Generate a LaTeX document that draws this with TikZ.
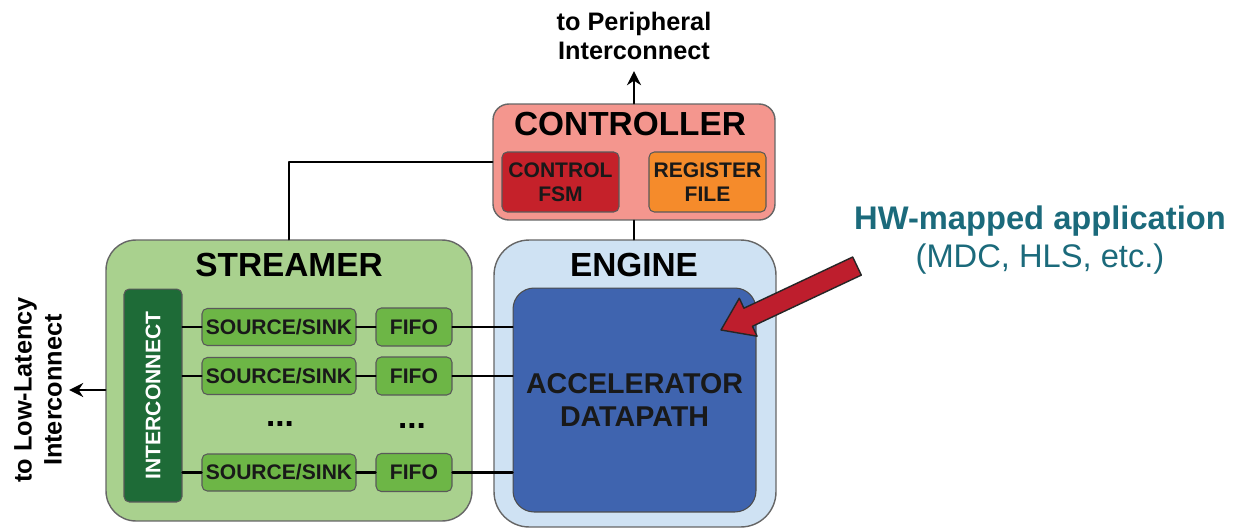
\documentclass[tikz,border=0pt]{standalone}
\usepackage{fontspec}
\setmainfont{Liberation Sans}
\usetikzlibrary{arrows.meta}
\definecolor{ctrlfill}{HTML}{F4968E}
\definecolor{fsmfill}{HTML}{C5212A}
\definecolor{regfill}{HTML}{F58B2B}
\definecolor{strfill}{HTML}{A9D18E}
\definecolor{srcfill}{HTML}{6DB646}
\definecolor{icfill}{HTML}{1E6B37}
\definecolor{engfill}{HTML}{CFE2F3}
\definecolor{accfill}{HTML}{3F64AF}
\definecolor{appcolor}{HTML}{1B6A7B}
\definecolor{arrowred}{HTML}{BE1E2D}

\begin{document}
\begin{tikzpicture}[x=0.02cm,y=-0.02cm,line cap=round,line join=round,
  block/.style={draw=black!60,line width=0.8pt},
  cell/.style={draw=black!65,line width=0.6pt,rounded corners=3pt,inner sep=0pt,align=center,
    text=black!90,font=\bfseries\fontsize{12}{13.6}\selectfont},
  title/.style={font=\bfseries\fontsize{19}{22}\selectfont},
  note/.style={align=center,font=\bfseries\fontsize{14.4}{17}\selectfont},
  wire/.style={line width=1.4pt}]
  \useasboundingbox (0,0) rectangle (1250,531);
  % the three big blocks
  \node[block,fill=ctrlfill,rounded corners=9pt,minimum width=5.64cm,minimum height=2.32cm] (ctrl) at (634,162) {};
  \node[block,fill=strfill,rounded corners=17pt,minimum width=7.32cm,minimum height=5.62cm] (streamer) at (289,380.5) {};
  \node[block,fill=engfill,rounded corners=20pt,minimum width=5.64cm,minimum height=5.74cm] (engine) at (635,383.5) {};
  \node[title] (ctrltitle) at (630,124.5) {CONTROLLER};
  \node[title] (strtitle) at (289,265) {STREAMER};
  \node[title] (engtitle) at (634,265) {ENGINE};
  % controller
  \node[cell,fill=fsmfill,minimum width=2.34cm,minimum height=1.2cm] (fsm) at (560.5,182) {CONTROL\\FSM};
  \node[cell,fill=regfill,minimum width=2.34cm,minimum height=1.2cm] (reg) at (707.5,182) {REGISTER\\FILE};
  % engine
  \node[cell,fill=accfill,draw=black!70,rounded corners=12pt,minimum width=4.86cm,minimum height=4.48cm,
    font=\bfseries\fontsize{16.3}{18.7}\selectfont] (acc) at (634.5,400) {ACCELERATOR\\DATAPATH};
  % streamer
  \node[cell,fill=icfill,text=white,minimum width=1.16cm,minimum height=4.26cm] (ic) at (153,395.5) {\rotatebox{90}{INTERCONNECT}};
  \foreach \i/\y in {1/327,2/376,3/472.5}{
    \node[cell,fill=srcfill,minimum width=3.08cm,minimum height=0.74cm] (src\i) at (279,\y) {SOURCE/SINK};
    \node[cell,fill=srcfill,minimum width=1.52cm,minimum height=0.76cm] (fifo\i) at (414,\y) {FIFO};
    \draw[wire] (ic.east |- src\i) -- (src\i);
    \draw[wire] (src\i) -- (fifo\i);
    \draw[wire] (fifo\i) -- (acc.west |- fifo\i);
  }
  \node[title] (dotsrc) at (280,424) {...};
  \node[title] (dotfifo) at (412,426) {...};
  % outside labels
  \node[note,inner sep=6pt] (periph) at (634,36) {to Peripheral\\Interconnect};
  \node[note,inner sep=4pt,rotate=90] (lowlat) at (38,390) {to Low-Latency\\Interconnect};
  \node[text=appcolor,align=center,font=\fontsize{18.6}{21.5}\selectfont] (app) at (1040,240)
    {{\bfseries HW-mapped application}\\(MDC, HLS, etc.)};
  % wires
  \draw[wire,-{Stealth[length=8pt,width=8pt]}] (ctrl.north) -- (periph.south);
  \draw[wire] (ctrl.south) -- (engine.north -| ctrl.south);
  \draw[wire] (ctrl.west) -| (streamer.north);
  \draw[wire,-{Stealth[length=8pt,width=8pt]}] (streamer.west |- lowlat) -- (lowlat.south);
  % big red pointer
  \draw[fill=arrowred,draw=black!85,line width=0.8pt] (852.7,257) -- (861.3,275.1) -- (752.4,326.3)
    -- (757.1,336.2) -- (721,330) -- (739.3,298.2) -- (743.9,308.2) -- cycle;
\end{tikzpicture}
\end{document}
